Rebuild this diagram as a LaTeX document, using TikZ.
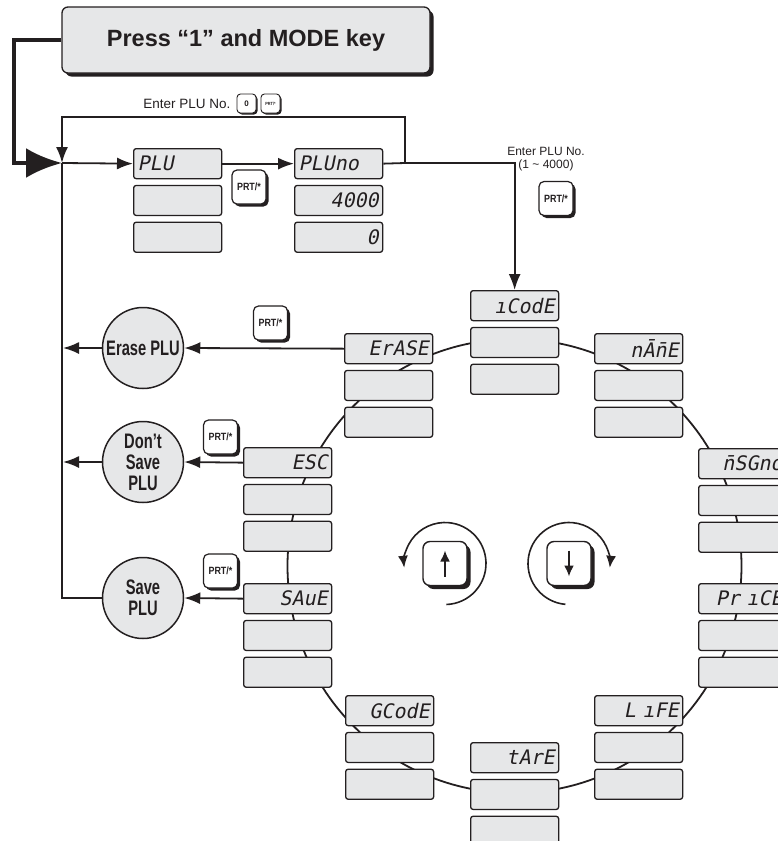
\documentclass[tikz,border=0pt]{standalone}
\usepackage{fontspec}
\setmainfont{Liberation Sans}
\newfontfamily\lcdfont{DejaVu Sans Mono}[FakeSlant=0.2]
\newfontfamily\condfont{Liberation Sans}[FakeStretch=0.7]
\newfontfamily\keyfont{Liberation Sans}[FakeStretch=0.85]
\usetikzlibrary{arrows.meta, positioning, shadows}

\definecolor{panel}{HTML}{E6E7E8}
\definecolor{ink}{HTML}{231F20}

\tikzset{
  lcd/.style={draw=ink, fill=panel, line width=1.3pt, rounded corners=2.5pt,
    minimum height=30pt, text width=80pt, inner xsep=4pt, inner ysep=0pt,
    align=right, text=ink, font=\lcdfont\fontsize{20}{20}\selectfont},
  lcdleft/.style={lcd, align=left},
  titlebox/.style={draw=ink, fill=panel, line width=1.3pt, rounded corners=6pt,
    minimum width=368pt, minimum height=66pt, text=ink,
    font=\bfseries\fontsize{23.5}{23.5}\selectfont,
    drop shadow={shadow xshift=3.5pt, shadow yshift=-3.5pt, fill=ink, opacity=1}},
  bubble/.style={circle, draw=ink, fill=panel, line width=1.5pt, minimum size=81pt,
    inner sep=0pt, align=center, text=ink,
    font=\condfont\bfseries\fontsize{21}{21}\selectfont},
  keycap/.style={draw=ink, fill=white, line width=1.2pt, rounded corners=5pt,
    minimum size=34pt, inner sep=0pt, text=ink,
    font=\keyfont\bfseries\fontsize{10.5}{10.5}\selectfont,
    drop shadow={shadow xshift=#1, shadow yshift=-#1, fill=ink, opacity=1}},
  keycap/.default=2.5pt,
  minikey/.style={keycap=1.5pt, minimum size=19pt, rounded corners=3.5pt, line width=0.9pt},
  link/.style={draw=ink, line width=1.8pt},
  linkarrow/.style={link, -{Latex[length=16pt,width=12pt]}},
  feed/.style={draw=ink, line width=4.5pt, line join=miter, -{Latex[length=36pt,width=30pt]}},
  turn/.style={draw=ink, line width=1.6pt, -{Latex[length=12pt,width=10pt]}}
}

\begin{document}
\begin{tikzpicture}[x=1pt, y=-1pt]
  \useasboundingbox (0,0) rectangle (778,841);

  % the menu ring behind the displays
  \coordinate (hub) at (514.5,566);
  \draw[link] (hub) circle[radius=227pt];

  % start box
  \node[titlebox] (title) at (246,40) {Press “1” and MODE key};

  % PLU number entry
  \node[lcdleft, anchor=north west] (plu1) at (133,148) {PLU};
  \node[lcd, below=5.5pt of plu1] (plu2) {};
  \node[lcd, below=5.5pt of plu2] (plu3) {};
  \node[lcdleft, anchor=north west] (pluNo1) at (294,148) {PLUno};
  \node[lcd, below=5.5pt of pluNo1] (pluNo2) {4000};
  \node[lcd, below=5.5pt of pluNo2] (pluNo3) {0};

  % menu displays round the ring
  \foreach \nm/\px/\py/\txt in {iCode/470/290/{ıCodE}, nAmE/594/333/{n\=A\=nE},
      msgNo/698/448/{\=nSGno}, price/698/583/{Pr ıCE}, life/594/695/{L ıFE},
      tare/470/742/{tArE}, gCode/345/695/{GCodE}, save/243/583/{SAuE},
      esc/243/447/{ESC}, erase/344/333/{ErASE}} {
    \node[lcd, anchor=north west] (\nm1) at (\px,\py) {\txt};
    \node[lcd, below=5.5pt of \nm1] (\nm2) {};
    \node[lcd, below=5.5pt of \nm2] (\nm3) {};
  }

  % result bubbles
  \node[bubble] (eraseBub) at (143,348) {Erase PLU};
  \node[bubble] (escBub) at (143,462) {Don’t\\Save\\PLU};
  \node[bubble] (saveBub) at (143,598) {Save\\PLU};

  % keys
  \node[keycap] (kPlu) at (249,187) {PRT/*};
  \node[keycap] (kCode) at (556,198.5) {PRT/*};
  \node[keycap] (kErase) at (270.5,323) {PRT/*};
  \node[keycap] (kEsc) at (220.5,437) {PRT/*};
  \node[keycap] (kSave) at (220.5,571) {PRT/*};
  \node[minikey, font=\bfseries\fontsize{8}{8}\selectfont] (kZero) at (246.5,103.5) {0};
  \node[minikey, font=\keyfont\bfseries\fontsize{4.5}{4.5}\selectfont] (kPrtTop) at (270.5,103.5) {PRT/*};
  \node[keycap=3.5pt, minimum size=44pt, rounded corners=7pt, line width=1.4pt] (upKey) at (445,563.5) {};
  \node[keycap=3.5pt, minimum size=44pt, rounded corners=7pt, line width=1.4pt] (downKey) at (569,563.5) {};

  % labels
  \node[anchor=east, text=ink, font=\fontsize{13.5}{13.5}\selectfont] (enterTop) at (234,104) {Enter PLU No.};
  \node[align=center, text=ink, font=\fontsize{12}{13.5}\selectfont] (enterCode) at (546,159)
    {Enter PLU No.\\(1 \textasciitilde{} 4000)};

  % junction and corners
  \coordinate (jn) at (62,163);
  \coordinate (feedBend) at (14,163);
  \coordinate (loopR) at (405,163);
  \coordinate (loopTL) at (62,117);

  % flow lines
  \draw[feed] (title.west) -| (feedBend) -- (jn);
  \draw[linkarrow] (loopR) |- (loopTL) -- (jn);
  \draw[linkarrow] (jn) -- (plu1.west);
  \draw[linkarrow] (plu1.east) -- (pluNo1.west);
  \draw[link] (pluNo1.east) -- (loopR);
  \draw[linkarrow] (loopR) -| (iCode1.north);
  \draw[link] (saveBub.west) -| (jn);
  \draw[linkarrow] (erase1.west) -- (eraseBub.east);
  \draw[linkarrow] (esc1.west) -- (escBub.east);
  \draw[linkarrow] (save1.west) -- (saveBub.east);
  \draw[linkarrow, shorten >=1pt] (eraseBub.west) -- (eraseBub.west -| jn);
  \draw[linkarrow, shorten >=1pt] (escBub.west) -- (escBub.west -| jn);

  % scroll keys
  \draw[turn] ([shift={(-88:41pt)}]upKey.center) arc[start angle=-88, end angle=186, radius=41pt];
  \draw[turn] ([shift={(-95:41pt)}]downKey.center) arc[start angle=265, end angle=-6, radius=41pt];
  \draw[turn, line width=2pt, -{Latex[length=11pt,width=10pt]}] ([yshift=-13pt]upKey.center) -- ([yshift=13pt]upKey.center);
  \draw[turn, line width=2pt, -{Latex[length=11pt,width=10pt]}] ([yshift=13pt]downKey.center) -- ([yshift=-13pt]downKey.center);
\end{tikzpicture}
\end{document}
